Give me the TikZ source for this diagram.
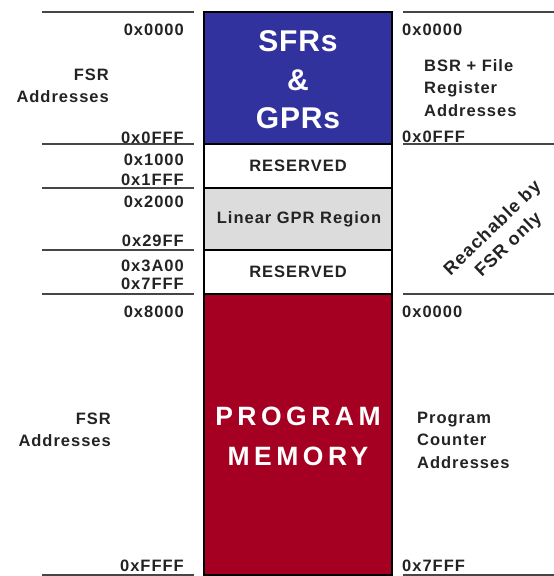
\documentclass[tikz,border=0pt]{standalone}
\usepackage{fontspec}
\newfontfamily\labfont{Liberation Sans Bold}[LetterSpace=6]
\newfontfamily\sfrfont{Liberation Sans Bold}[LetterSpace=3]
\newfontfamily\pmfont{Liberation Sans Bold}[LetterSpace=17]
\definecolor{sfrblue}{RGB}{50,50,158}
\definecolor{pmred}{RGB}{165,0,33}
\definecolor{lingray}{RGB}{220,220,220}
\definecolor{txt}{RGB}{35,35,35}
\definecolor{rule}{RGB}{70,70,70}
\tikzset{
  lbl/.style={inner sep=0pt, text=txt, font=\labfont\fontsize{16.5}{22.5}\selectfont},
  blk/.style={draw=black, line width=1.6pt},
  sep/.style={draw=rule, line width=2.6pt},
}
\begin{document}
\begin{tikzpicture}[x=1pt,y=-1pt]
\useasboundingbox (0,0) rectangle (554,576);
% column blocks
\filldraw[blk, fill=sfrblue] (204,12) rectangle (392,144);
\filldraw[blk, fill=white] (204,144) rectangle (392,188);
\filldraw[blk, fill=lingray] (204,188) rectangle (392,250);
\filldraw[blk, fill=white] (204,250) rectangle (392,294);
\filldraw[blk, fill=pmred] (204,294) rectangle (392,575);
% left rules
\foreach \y in {12,144,188,250,294,575} \draw[sep] (42,\y) -- (194,\y);
% right rules
\foreach \y in {12,144,294,575} \draw[sep] (403,\y) -- (554,\y);
% center texts
\node[inner sep=0pt, text=white, align=center, font=\sfrfont\fontsize{30}{38.5}\selectfont] (sfr) at (298,80) {SFRs\\\&\\GPRs};
\node[lbl] (res1) at (298,166) {RESERVED};
\node[lbl] (lin) at (299,219) {Linear GPR Region};
\node[lbl] (res2) at (298,272) {RESERVED};
\node[inner sep=0pt, text=white, align=center, font=\pmfont\fontsize{26.5}{40}\selectfont] (pm) at (298,436) {PROGRAM\\MEMORY};
% left labels
\node[lbl, anchor=east] (a0) at (184,30) {0x0000};
\node[lbl, anchor=east, align=right] (fsr1) at (109,86) {FSR\\Addresses};
\node[lbl, anchor=east] (a1) at (184,138) {0x0FFF};
\node[lbl, anchor=east] (a2) at (184,160) {0x1000};
\node[lbl, anchor=east] (a3) at (184,180) {0x1FFF};
\node[lbl, anchor=east] (a4) at (184,202) {0x2000};
\node[lbl, anchor=east] (a5) at (184,241) {0x29FF};
\node[lbl, anchor=east] (a6) at (184,266) {0x3A00};
\node[lbl, anchor=east] (a7) at (184,284) {0x7FFF};
\node[lbl, anchor=east] (a8) at (184,312) {0x8000};
\node[lbl, anchor=east, align=right] (fsr2) at (111,430) {FSR\\Addresses};
\node[lbl, anchor=east] (a9) at (184,566) {0xFFFF};
% right labels
\node[lbl, anchor=west] (b0) at (402,30) {0x0000};
\node[lbl, anchor=west, align=left] (bsr) at (424,88) {BSR + File\\Register\\Addresses};
\node[lbl, anchor=west] (b1) at (402,137) {0x0FFF};
\node[lbl, rotate=44, align=center, font=\labfont\fontsize{18}{23}\selectfont] (reach) at (501,237) {Reachable by\\FSR only};
\node[lbl, anchor=west] (b2) at (402,312) {0x0000};
\node[lbl, anchor=west, align=left] (pc) at (417,440) {Program\\Counter\\Addresses};
\node[lbl, anchor=west] (b3) at (402,566) {0x7FFF};
\end{tikzpicture}
\end{document}
